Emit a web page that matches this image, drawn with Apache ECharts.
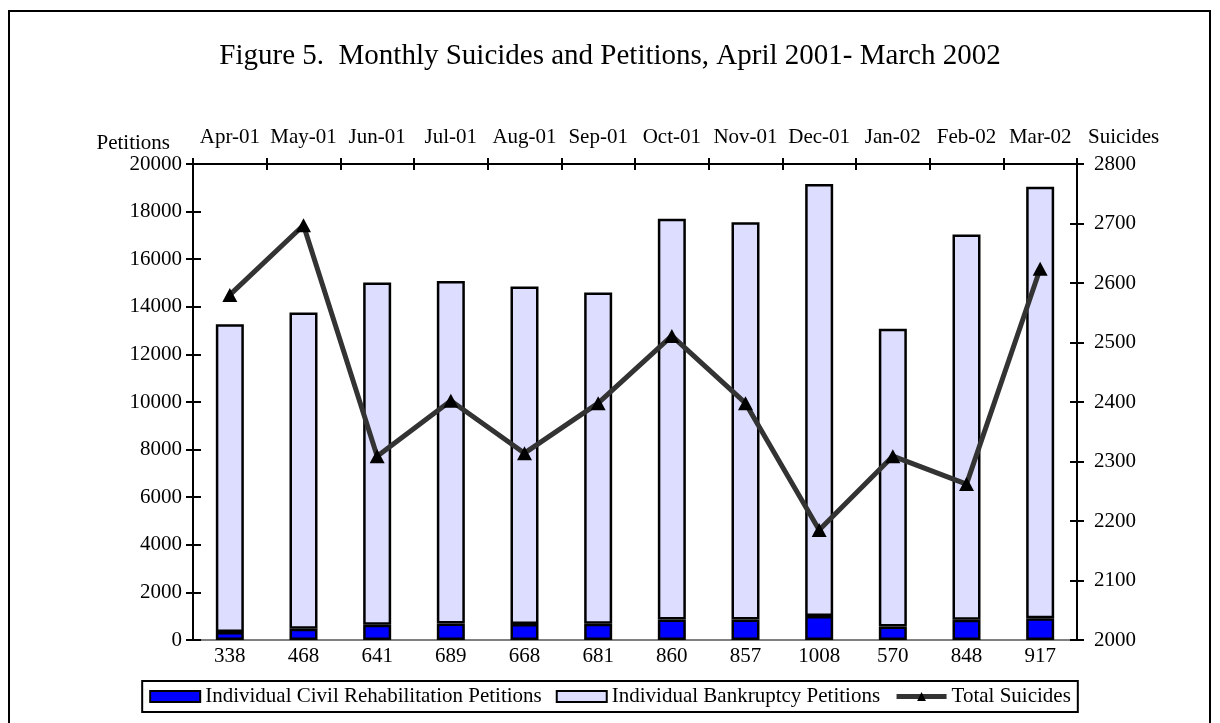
<!DOCTYPE html>
<html>
<head>
<meta charset="utf-8">
<script src="https://cdn.jsdelivr.net/npm/echarts@6/dist/echarts.min.js"></script>
<style>
  html, body { margin: 0; padding: 0; background: #fff; }
  #chart { width: 1220px; height: 723px; }
</style>
</head>
<body>
<div id="chart"></div>
<script>
// months on the top axis
const months = ['Apr-01', 'May-01', 'Jun-01', 'Jul-01', 'Aug-01', 'Sep-01', 'Oct-01', 'Nov-01', 'Dec-01', 'Jan-02', 'Feb-02', 'Mar-02']
// individual civil rehabilitation petitions (also printed under the bars)
const civil = [338, 468, 641, 689, 668, 681, 860, 857, 1008, 570, 848, 917]
// individual bankruptcy petitions
const bankruptcy = [12930, 13290, 14380, 14400, 14180, 13920, 16840, 16700, 18150, 12510, 16190, 18130]
// total suicides, right axis
const suicides = [2580, 2697, 2309, 2402, 2314, 2398, 2511, 2398, 2185, 2309, 2262, 2624]

const font = "'Liberation Serif', 'Times New Roman', serif"
const plain = v => String(v)

let myChart = echarts.init(document.getElementById('chart'))
let option = {
  animation: false,
  backgroundColor: '#fff',
  textStyle: { fontFamily: font, color: '#000' },
  title: {
    text: 'Figure 5.  Monthly Suicides and Petitions, April 2001- March 2002',
    left: 'center',
    top: 42,
    padding: 0,
    textStyle: { fontFamily: font, fontSize: 29, fontWeight: 'normal', color: '#000' }
  },
  graphic: [
    {
      type: 'rect',
      silent: true,
      shape: { x: 9, y: 11, width: 1201, height: 740 },
      style: { fill: 'none', stroke: '#000', lineWidth: 2 }
    }
  ],
  grid: {
    left: 193,
    right: 143,
    top: 164,
    bottom: 83
  },
  legend: {
    bottom: 11,
    left: 'center',
    padding: [5, 7],
    itemGap: 14,
    itemWidth: 50,
    itemHeight: 11,
    borderColor: '#000',
    borderWidth: 2,
    textStyle: { fontFamily: font, fontSize: 21, color: '#000' },
    data: [
      { name: 'Individual Civil Rehabilitation Petitions', icon: 'rect' },
      { name: 'Individual Bankruptcy Petitions', icon: 'rect' },
      { name: 'Total Suicides', lineStyle: { width: 5, color: '#333333' } }
    ]
  },
  xAxis: [
    {
      type: 'category',
      position: 'top',
      data: months,
      axisLine: { show: true, onZero: false, lineStyle: { color: '#000', width: 2 } },
      axisTick: { show: true, interval: 0, length: 6, lineStyle: { color: '#000', width: 2 } },
      axisLabel: { interval: 0, fontFamily: font, fontSize: 21, color: '#000', margin: 16 }
    },
    {
      // inner half of the crossing ticks
      type: 'category',
      position: 'top',
      data: months,
      axisLine: { show: false, onZero: false },
      axisTick: { show: true, interval: 0, inside: true, length: 6, lineStyle: { color: '#000', width: 2 } },
      axisLabel: { show: false }
    },
    {
      type: 'category',
      position: 'bottom',
      data: civil.map(String),
      axisLine: { show: true, onZero: false, lineStyle: { color: '#808080', width: 2 } },
      axisTick: { show: false },
      axisLabel: { interval: 0, fontFamily: font, fontSize: 21, color: '#000', margin: 6 }
    }
  ],
  yAxis: [
    {
      type: 'value',
      position: 'left',
      min: 0,
      max: 20000,
      interval: 2000,
      name: 'Petitions',
      nameLocation: 'end',
      nameGap: 20,
      nameTextStyle: { fontFamily: font, fontSize: 21, color: '#000', align: 'right', verticalAlign: 'middle', padding: [0, 23, 0, 0] },
      axisLine: { show: true, onZero: false, lineStyle: { color: '#000', width: 2 } },
      axisTick: { show: true, length: 7, lineStyle: { color: '#000', width: 2 } },
      axisLabel: { fontFamily: font, fontSize: 21, color: '#000', margin: 11, formatter: plain },
      splitLine: { show: false }
    },
    {
      type: 'value',
      position: 'left',
      min: 0,
      max: 20000,
      interval: 2000,
      axisLine: { show: false, onZero: false },
      axisTick: { show: true, inside: true, length: 8, lineStyle: { color: '#000', width: 2 } },
      axisLabel: { show: false },
      splitLine: { show: false }
    },
    {
      type: 'value',
      position: 'right',
      min: 2000,
      max: 2800,
      interval: 100,
      name: 'Suicides',
      nameLocation: 'end',
      nameGap: 27,
      nameTextStyle: { fontFamily: font, fontSize: 21, color: '#000', align: 'left', verticalAlign: 'middle', padding: [0, 0, 0, 11] },
      axisLine: { show: true, onZero: false, lineStyle: { color: '#000', width: 2 } },
      axisTick: { show: true, length: 7, lineStyle: { color: '#000', width: 2 } },
      axisLabel: { fontFamily: font, fontSize: 21, color: '#000', margin: 17, formatter: plain },
      splitLine: { show: false }
    },
    {
      type: 'value',
      position: 'right',
      min: 2000,
      max: 2800,
      interval: 100,
      axisLine: { show: false, onZero: false },
      axisTick: { show: true, inside: true, length: 7, lineStyle: { color: '#000', width: 2 } },
      axisLabel: { show: false },
      splitLine: { show: false }
    }
  ],
  series: [
    {
      name: 'Individual Civil Rehabilitation Petitions',
      type: 'bar',
      stack: 'petitions',
      xAxisIndex: 0,
      yAxisIndex: 0,
      barWidth: 28,
      data: civil,
      itemStyle: { color: '#0000ff', borderColor: '#000', borderWidth: 2.5 }
    },
    {
      name: 'Individual Bankruptcy Petitions',
      type: 'bar',
      stack: 'petitions',
      xAxisIndex: 0,
      yAxisIndex: 0,
      barWidth: 28,
      data: bankruptcy,
      itemStyle: { color: '#ddddff', borderColor: '#000', borderWidth: 2.5 }
    },
    {
      name: 'Total Suicides',
      type: 'line',
      xAxisIndex: 0,
      yAxisIndex: 2,
      data: suicides,
      symbol: 'triangle',
      symbolSize: [15, 14],
      showAllSymbol: true,
      lineStyle: { color: '#333333', width: 5 },
      itemStyle: { color: '#000' },
      z: 5
    }
  ]
}
myChart.setOption(option)
</script>
</body>
</html>
